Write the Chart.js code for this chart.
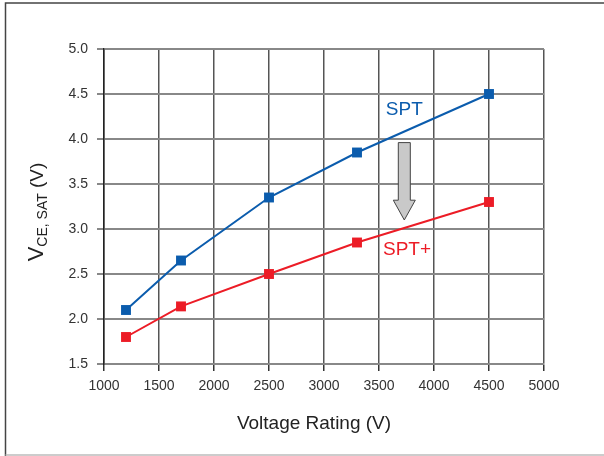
<!DOCTYPE html>
<html>
<head>
<meta charset="utf-8">
<script src="https://cdn.jsdelivr.net/npm/chart.js@4"></script>
<style>
  html, body { margin: 0; padding: 0; background: #fff; }
  #wrap { width: 604px; height: 456px; }
</style>
</head>
<body>
<div id="wrap"><canvas id="chart" width="604" height="456"></canvas></div>
<script>
  const voltageRating = [1200, 1700, 2500, 3300, 4500];
  const vceSPT = [2.1, 2.65, 3.35, 3.85, 4.5];
  const vceSPTPlus = [1.8, 2.14, 2.5, 2.85, 3.3];

  const xTicks = [1000, 1500, 2000, 2500, 3000, 3500, 4000, 4500, 5000];
  const yTicks = [1.5, 2.0, 2.5, 3.0, 3.5, 4.0, 4.5, 5.0];

  // where the series labels and the arrow sit, in data units
  const labelSPT = { x: 3730, y: 4.32, text: "SPT" };
  const labelSPTPlus = { x: 3755, y: 2.77, text: "SPT+" };
  const arrowSpot = { x: 3730, top: 3.96, neck: 3.32, tip: 3.1 };

  const BLUE = "#0b5cad";
  const RED = "#ec1c26";
  const FONT = "'Liberation Sans', Arial, Helvetica, sans-serif";

  function toPoints(xs, ys) {
    return xs.map((x, i) => ({ x, y: ys[i] }));
  }

  const extras = {
    id: "extras",
    beforeDraw(chart) {
      const ctx = chart.ctx;
      ctx.save();
      ctx.fillStyle = "#fff";
      ctx.fillRect(0, 0, chart.width, chart.height);
      // outer frame
      ctx.strokeStyle = "#444";
      ctx.lineWidth = 1.5;
      ctx.beginPath();
      ctx.moveTo(5.5, 456);
      ctx.lineTo(5.5, 3);
      ctx.lineTo(604, 3);
      ctx.stroke();
      ctx.strokeStyle = "#bbb";
      ctx.lineWidth = 1.5;
      ctx.beginPath();
      ctx.moveTo(5.5, 455);
      ctx.lineTo(604, 455);
      ctx.stroke();
      ctx.restore();
    },
    afterDatasetsDraw(chart) {
      const ctx = chart.ctx;
      const xs = chart.scales.x;
      const ys = chart.scales.y;
      ctx.save();

      // arrow between the curves
      const ax = xs.getPixelForValue(arrowSpot.x);
      const aTop = ys.getPixelForValue(arrowSpot.top);
      const aNeck = ys.getPixelForValue(arrowSpot.neck);
      const aTip = ys.getPixelForValue(arrowSpot.tip);
      ctx.beginPath();
      ctx.moveTo(ax - 6, aTop);
      ctx.lineTo(ax + 6, aTop);
      ctx.lineTo(ax + 6, aNeck);
      ctx.lineTo(ax + 11, aNeck);
      ctx.lineTo(ax, aTip);
      ctx.lineTo(ax - 11, aNeck);
      ctx.lineTo(ax - 6, aNeck);
      ctx.closePath();
      ctx.fillStyle = "#c9c9c9";
      ctx.fill();
      ctx.strokeStyle = "#444";
      ctx.lineWidth = 1;
      ctx.stroke();

      // series labels
      ctx.font = "19px " + FONT;
      ctx.textAlign = "center";
      ctx.textBaseline = "middle";
      ctx.fillStyle = BLUE;
      ctx.fillText(labelSPT.text, xs.getPixelForValue(labelSPT.x), ys.getPixelForValue(labelSPT.y));
      ctx.fillStyle = RED;
      ctx.fillText(labelSPTPlus.text, xs.getPixelForValue(labelSPTPlus.x), ys.getPixelForValue(labelSPTPlus.y));

      // x axis title
      const area = chart.chartArea;
      ctx.fillStyle = "#222";
      ctx.font = "19px " + FONT;
      ctx.fillText("Voltage Rating (V)", (area.left + area.right) / 2 - 10, 424);

      // y axis title with subscript
      ctx.translate(35, 212);
      ctx.rotate(-Math.PI / 2);
      ctx.textAlign = "left";
      ctx.textBaseline = "alphabetic";
      const parts = [
        { t: "V", f: "22px " + FONT, dy: 0 },
        { t: "CE, SAT", f: "14px " + FONT, dy: 4 },
        { t: " (V)", f: "19px " + FONT, dy: 0 },
      ];
      let total = 0;
      parts.forEach((p) => {
        ctx.font = p.f;
        p.w = ctx.measureText(p.t).width;
        total += p.w;
      });
      let cx = -total / 2;
      parts.forEach((p) => {
        ctx.font = p.f;
        ctx.fillText(p.t, cx, 8 + p.dy);
        cx += p.w;
      });
      ctx.restore();
    },
  };

  new Chart(document.getElementById("chart"), {
    type: "line",
    data: {
      datasets: [
        {
          label: "SPT",
          data: toPoints(voltageRating, vceSPT),
          borderColor: BLUE,
          backgroundColor: BLUE,
        },
        {
          label: "SPT+",
          data: toPoints(voltageRating, vceSPTPlus),
          borderColor: RED,
          backgroundColor: RED,
        },
      ],
    },
    options: {
      responsive: false,
      animation: false,
      devicePixelRatio: 1,
      layout: { padding: { top: 49, right: 60, left: 0, bottom: 0 } },
      elements: {
        line: { borderWidth: 2, tension: 0 },
        point: { pointStyle: "rect", radius: 7, hoverRadius: 7, borderWidth: 0 },
      },
      plugins: {
        legend: { display: false },
        tooltip: { enabled: false },
      },
      scales: {
        x: {
          type: "linear",
          min: 1000,
          max: 5000,
          afterBuildTicks: (scale) => {
            scale.ticks = xTicks.map((v) => ({ value: v }));
          },
          afterFit: (scale) => {
            scale.height = 92;
          },
          ticks: {
            color: "#333",
            font: { family: FONT, size: 14 },
            padding: 7,
            maxRotation: 0,
            callback: (v) => String(v),
          },
          grid: {
            color: "#555",
            lineWidth: 1.5,
            tickLength: 7,
            tickColor: "#333",
            tickWidth: 1.5,
          },
          border: { color: "#888", width: 2 },
        },
        y: {
          min: 1.5,
          max: 5.0,
          afterBuildTicks: (scale) => {
            scale.ticks = yTicks.map((v) => ({ value: v }));
          },
          afterFit: (scale) => {
            scale.width = 104;
          },
          ticks: {
            color: "#333",
            font: { family: FONT, size: 14 },
            padding: 9,
            callback: (v) => v.toFixed(1),
          },
          grid: {
            color: "#888",
            lineWidth: 2,
            tickLength: 7,
            tickColor: "#888",
            tickWidth: 2,
          },
          border: { color: "#222", width: 1.5 },
        },
      },
    },
    plugins: [extras],
  });
</script>
</body>
</html>
